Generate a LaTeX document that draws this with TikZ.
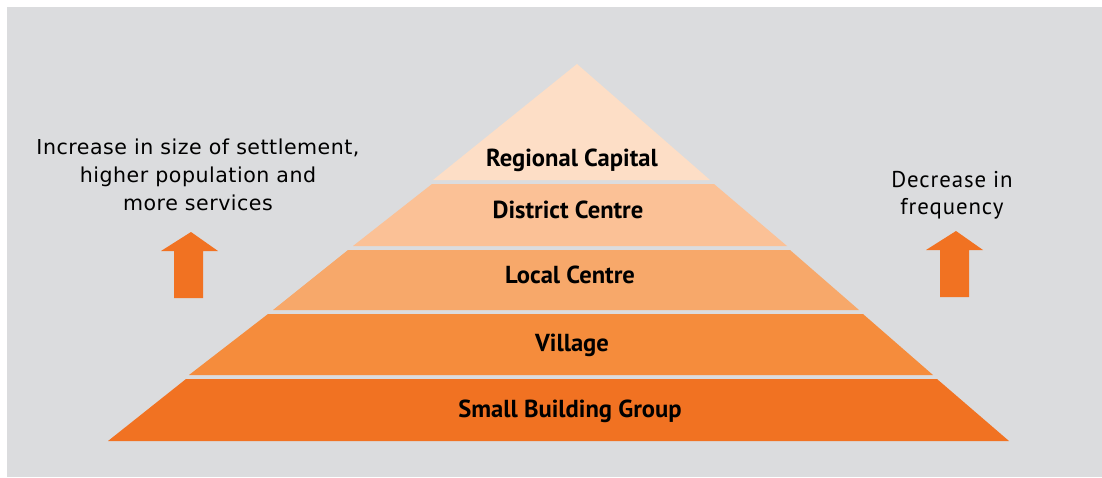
\documentclass[tikz,border=0pt]{standalone}
\usepackage{fontspec}
\setmainfont{PT Sans}
\newfontfamily\sidefont[LetterSpace=2.5]{DejaVu Sans}
\newfontfamily\freqfont[LetterSpace=4]{PT Sans}
\usepackage{tikz}

\definecolor{panel}{RGB}{219,220,222}
\definecolor{capitalc}{RGB}{253,222,198}
\definecolor{districtc}{RGB}{251,193,150}
\definecolor{localc}{RGB}{247,168,106}
\definecolor{villagec}{RGB}{245,140,60}
\definecolor{groupc}{RGB}{241,114,34}

\begin{document}
\begin{tikzpicture}[x=0.02cm, y=-0.02cm,
    tier/.style={font=\fontsize{14}{16}\selectfont\bfseries, anchor=base, inner sep=0pt},
    note/.style={align=center, anchor=north, inner sep=0pt},
    uparrow/.style={fill=groupc, draw=none}]
            \useasboundingbox (0,0) rectangle (1102,477);
            \fill[panel] (7,7) rectangle (1102,477);
            % the five tiers, top to bottom
            \fill[capitalc] (577,64) -- (710,180) -- (433,180) -- cycle;
            \fill[districtc] (432,184) -- (714,184) -- (787,246) -- (353,246) -- cycle;
            \fill[localc] (348,250) -- (790,250) -- (859,310) -- (273,310) -- cycle;
            \fill[villagec] (268,314) -- (863,314) -- (933,375) -- (189,375) -- cycle;
            \fill[groupc] (186,379) -- (937,379) -- (1009,441) -- (108,441) -- cycle;
            \node[tier] (capital) at (572,166) {Regional Capital};
            \node[tier] (district) at (568,218) {District Centre};
            \node[tier] (local) at (570,283) {Local Centre};
            \node[tier] (village) at (572,351) {Village};
            \node[tier] (group) at (570,417) {Small Building Group};
            % side notes
            \node[note, font=\sidefont\fontsize{11.7}{15.9}\selectfont] (size) at (198,139)
                {Increase in size of settlement,\\higher population and\\more services};
            \node[note, font=\freqfont\fontsize{13}{15.4}\selectfont] (freq) at (952,171)
                {Decrease in\\frequency};
            \fill[uparrow] (191,232) -- (218,251) -- (203,251) -- (203,298)
                -- (174,298) -- (174,251) -- (161,251) -- cycle;
            \fill[uparrow] (956,231) -- (983,250) -- (969,250) -- (969,297)
                -- (940,297) -- (940,250) -- (926,250) -- cycle;
        \end{tikzpicture}
\end{document}
